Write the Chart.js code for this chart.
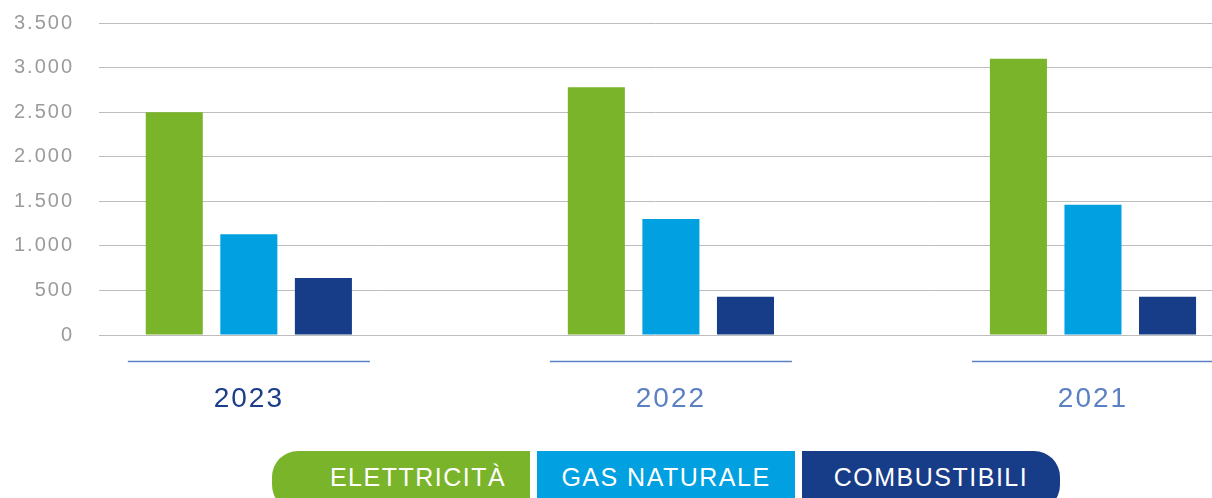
<!DOCTYPE html>
<html lang="it">
<head>
<meta charset="utf-8">
<title>Consumi energetici</title>
<script src="https://cdn.jsdelivr.net/npm/chart.js@4.4.1/dist/chart.umd.min.js"></script>
<style>
  html, body { margin: 0; padding: 0; background: #fff; overflow: hidden; }
  #wrap { position: relative; width: 1212px; height: 498px; }
  #chart { position: absolute; left: 0; top: 0; }
  #legend { position: absolute; left: 272px; top: 451px; display: flex; gap: 7px; }
  .pill {
    width: 258px; height: 60px; box-sizing: border-box; padding-top: 14px;
    color: #fff; text-align: center;
    font: 25px/25px "Liberation Sans", Arial, sans-serif; letter-spacing: 1.5px;
  }
  .pill:first-child { border-radius: 26px 0 0 26px; padding-left: 34px; }
  .pill:last-child { border-radius: 0 26px 26px 0; }
</style>
</head>
<body>
<div id="wrap">
  <canvas id="chart" width="1212" height="420"></canvas>
  <div id="legend"></div>
</div>
<script>
// years and values
const years = ["2023", "2022", "2021"];
const elettricita = [2500, 2780, 3100];
const gasNaturale = [1130, 1300, 1460];
const combustibili = [640, 430, 430];

const seriesNames = ["ELETTRICITÀ", "GAS NATURALE", "COMBUSTIBILI"];
const seriesColors = ["#7ab42a", "#00a0e1", "#173c88"];
const yearColors = ["#1c3d88", "#5b80c3", "#5b80c3"];

const toPoints = (vals) => vals.map((v, i) => ({ x: i, y: v }));

const fmt = (v) => String(v).replace(/\B(?=(\d{3})+(?!\d))/g, ".");

// underline under each year + letter spacing on canvas text
const yearLines = {
  id: "yearLines",
  beforeLayout(chart) { chart.ctx.letterSpacing = "2px"; },
  beforeDraw(chart) { chart.ctx.letterSpacing = "2px"; },
  afterDraw(chart) {
    const ctx = chart.ctx;
    const xs = chart.scales.x;
    const y = chart.chartArea.bottom + 26.5;
    ctx.save();
    ctx.strokeStyle = "#5b80c3";
    ctx.lineWidth = 1.5;
    years.forEach((_, i) => {
      const px = xs.getPixelForValue(i);
      ctx.beginPath();
      ctx.moveTo(px - 121, y);
      ctx.lineTo(px + 121, y);
      ctx.stroke();
    });
    ctx.restore();
  }
};

const ctx = document.getElementById("chart").getContext("2d");
const chart = new Chart(ctx, {
  type: "bar",
  data: {
    datasets: [
      { label: seriesNames[0], data: toPoints(elettricita), backgroundColor: seriesColors[0] },
      { label: seriesNames[1], data: toPoints(gasNaturale), backgroundColor: seriesColors[1] },
      { label: seriesNames[2], data: toPoints(combustibili), backgroundColor: seriesColors[2] },
    ],
  },
  options: {
    responsive: false,
    animation: false,
    categoryPercentage: 0.53,
    barPercentage: 0.765,
    layout: { padding: { top: 23, right: 0, bottom: 0, left: 0 } },
    plugins: {
      legend: { display: false },
      tooltip: { enabled: false },
    },
    scales: {
      x: {
        type: "linear",
        min: -0.355,
        max: 2.282,
        bounds: "data",
        offset: false,
        afterBuildTicks: (scale) => { scale.ticks = years.map((_, i) => ({ value: i })); },
        afterFit: (scale) => { scale.height = 85; },
        grid: { display: false, drawTicks: false },
        border: { display: false },
        ticks: {
          autoSkip: false,
          maxRotation: 0,
          padding: 47,
          font: { family: "Liberation Sans", size: 28 },
          color: (c) => yearColors[c.tick.value] || "#5b80c3",
          callback: (v) => years[v],
        },
      },
      y: {
        min: 0,
        max: 3500,
        afterFit: (scale) => {
          scale.width = 99;
          scale.paddingTop = 0;
          scale.paddingBottom = 0;
        },
        grid: { color: "#bdbdbd", lineWidth: 1, drawTicks: false },
        border: { display: false },
        ticks: {
          stepSize: 500,
          padding: 25,
          font: { family: "Liberation Sans", size: 20 },
          color: "#9b9b9b",
          callback: (v) => fmt(v),
        },
      },
    },
  },
  plugins: [yearLines],
});

// html legend built from the datasets
const legend = document.getElementById("legend");
chart.data.datasets.forEach((ds) => {
  const d = document.createElement("div");
  d.className = "pill";
  d.style.background = ds.backgroundColor;
  d.textContent = ds.label;
  legend.appendChild(d);
});
</script>
</body>
</html>
